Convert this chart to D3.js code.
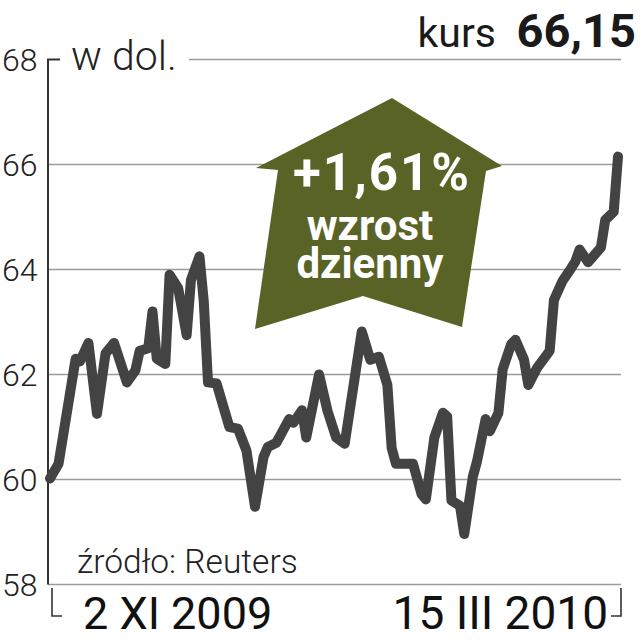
<!DOCTYPE html>
<html>
<head>
<meta charset="utf-8">
<script src="https://cdn.jsdelivr.net/npm/d3@7"></script>
<style>
  body { margin: 0; background: #fff; }
  svg { display: block; }
  text { font-family: Roboto, "Noto Sans", sans-serif; }
</style>
</head>
<body>
<svg width="641" height="640"></svg>
<script>
// notowania, w dol.
var dates = [
  "2009-11-02", "2009-11-04", "2009-11-06", "2009-11-08", "2009-11-09", "2009-11-11",
  "2009-11-13", "2009-11-15", "2009-11-17", "2009-11-20", "2009-11-22", "2009-11-23",
  "2009-11-25", "2009-11-26", "2009-11-27", "2009-11-29", "2009-11-30", "2009-12-02",
  "2009-12-04", "2009-12-05", "2009-12-07", "2009-12-08", "2009-12-09", "2009-12-11",
  "2009-12-14", "2009-12-16", "2009-12-18", "2009-12-20", "2009-12-22", "2009-12-23",
  "2009-12-25", "2009-12-28", "2009-12-29", "2009-12-31", "2010-01-01", "2010-01-04",
  "2010-01-06", "2010-01-08", "2010-01-10", "2010-01-14", "2010-01-16", "2010-01-18",
  "2010-01-20", "2010-01-21", "2010-01-22", "2010-01-26", "2010-01-28", "2010-01-29",
  "2010-01-31", "2010-02-02", "2010-02-03", "2010-02-04", "2010-02-06", "2010-02-07",
  "2010-02-09", "2010-02-10", "2010-02-12", "2010-02-13", "2010-02-15", "2010-02-16",
  "2010-02-18", "2010-02-19", "2010-02-21", "2010-02-22", "2010-02-24", "2010-02-27",
  "2010-02-28", "2010-03-02", "2010-03-04", "2010-03-05", "2010-03-06", "2010-03-08",
  "2010-03-11", "2010-03-12", "2010-03-14", "2010-03-15"
];
var prices = [
  60.02, 60.3, 61.3, 62.3, 62.25, 62.6,
  61.25, 62.4, 62.6, 61.85, 62.08, 62.45,
  62.5, 63.2, 62.3, 62.2, 63.9, 63.65,
  62.75, 63.8, 64.25, 63.4, 61.85, 61.83,
  61.0, 60.97, 60.55, 59.48, 60.43, 60.62,
  60.7, 61.15, 61.08, 61.32, 60.8, 62.0,
  61.3, 60.8, 60.68, 62.82, 62.28, 62.34,
  61.8, 60.6, 60.3, 60.3, 59.72, 59.62,
  60.8, 61.27, 61.2, 59.6, 59.5, 58.96,
  60.05, 60.35, 61.15, 60.92, 61.27, 62.1,
  62.58, 62.66, 62.28, 61.8, 62.12, 62.45,
  63.42, 63.78, 64.02, 64.15, 64.38, 64.14,
  64.42, 64.94, 65.1, 66.15
];
var yTicks = [58, 60, 62, 64, 66, 68];
var xTickLabels = ["2 XI 2009", "15 III 2010"];
var unitLabel = "w dol.";
var lastLabel = "kurs";
var lastValue = "66,15";
var changeLines = ["+1,61%", "wzrost", "dzienny"];
var sourceLabel = "źródło: Reuters";

var parseDate = d3.timeParse("%Y-%m-%d");
var data = dates.map(function(d, i) { return { date: parseDate(d), close: prices[i] }; });

var svg = d3.select("svg");

var x = d3.scaleTime()
          .domain(d3.extent(data, function(d) { return d.date; }))
          .range([50, 618]);
var y = d3.scaleLinear().domain([58, 68]).range([584.5, 59.5]);

var gridLeft = 48, gridRight = 621;

// siatka
svg.append("g")
   .selectAll("line")
   .data(yTicks)
   .enter().append("line")
   .attr("x1", function(d) { return d === 68 ? 189 : gridLeft; })
   .attr("x2", gridRight)
   .attr("y1", function(d) { return y(d); })
   .attr("y2", function(d) { return y(d); })
   .attr("stroke", "#9a9a9a")
   .attr("stroke-width", 1.6);

// os pionowa
svg.append("path")
   .attr("d", "M" + (gridLeft + 12) + "," + y(68) + "H" + gridLeft + "V" + y(58))
   .attr("fill", "none")
   .attr("stroke", "#333")
   .attr("stroke-width", 2);

svg.append("g")
   .selectAll("text")
   .data(yTicks)
   .enter().append("text")
   .attr("x", 2)
   .attr("y", function(d) { return y(d) + 11.5; })
   .attr("font-size", 32)
   .attr("font-weight", 300)
   .attr("fill", "#222")
   .text(function(d) { return d; });

svg.append("text")
   .attr("x", 71)
   .attr("y", 70)
   .attr("font-size", 41)
   .attr("font-weight", 300)
   .attr("fill", "#222")
   .text(unitLabel);

// kurs
svg.append("text")
   .attr("x", 496).attr("y", 47)
   .attr("text-anchor", "end")
   .attr("font-size", 41)
   .attr("fill", "#1a1a1a")
   .text(lastLabel);
svg.append("text")
   .attr("x", 636).attr("y", 47)
   .attr("text-anchor", "end")
   .attr("font-size", 47)
   .attr("font-weight", 700)
   .attr("fill", "#1a1a1a")
   .text(lastValue);

// strzalka
svg.append("polygon")
   .attr("points", "392,98 502,166 486,171 462,327 363,296 255,329 278,170 256,168")
   .attr("fill", "#5a6326");

var arrowText = svg.append("g")
   .attr("text-anchor", "middle")
   .attr("font-weight", 700)
   .attr("fill", "#fff");
arrowText.append("text")
   .attr("x", 382).attr("y", 190)
   .attr("font-size", 51)
   .attr("letter-spacing", 2)
   .text(changeLines[0]);
arrowText.append("text")
   .attr("x", 370).attr("y", 240)
   .attr("font-size", 42)
   .text(changeLines[1]);
arrowText.append("text")
   .attr("x", 370).attr("y", 278)
   .attr("font-size", 42)
   .text(changeLines[2]);

// linia
var line = d3.line()
             .x(function(d) { return x(d.date); })
             .y(function(d) { return y(d.close); });

svg.append("path")
   .datum(data)
   .attr("d", line)
   .attr("fill", "none")
   .attr("stroke", "#434343")
   .attr("stroke-width", 10)
   .attr("stroke-linejoin", "round")
   .attr("stroke-linecap", "round");

svg.append("text")
   .attr("x", 77)
   .attr("y", 573)
   .attr("font-size", 33.5)
   .attr("font-weight", 300)
   .attr("fill", "#222")
   .text(sourceLabel);

// os pozioma - tylko skrajne daty
var ends = x.domain();
svg.append("path")
   .attr("d", "M" + (x(ends[0]) + 2) + ",588V616H" + (x(ends[0]) + 12))
   .attr("fill", "none").attr("stroke", "#333").attr("stroke-width", 1.6);
svg.append("path")
   .attr("d", "M" + (x(ends[1]) + 3) + ",588V616H" + (x(ends[1]) - 7))
   .attr("fill", "none").attr("stroke", "#333").attr("stroke-width", 1.6);

svg.append("text")
   .attr("x", x(ends[0]) + 33)
   .attr("y", 629)
   .attr("font-size", 45)
   .attr("fill", "#111")
   .text(xTickLabels[0]);
svg.append("text")
   .attr("x", x(ends[1]) - 10)
   .attr("y", 629)
   .attr("text-anchor", "end")
   .attr("font-size", 46)
   .attr("fill", "#111")
   .text(xTickLabels[1]);
</script>
</body>
</html>
